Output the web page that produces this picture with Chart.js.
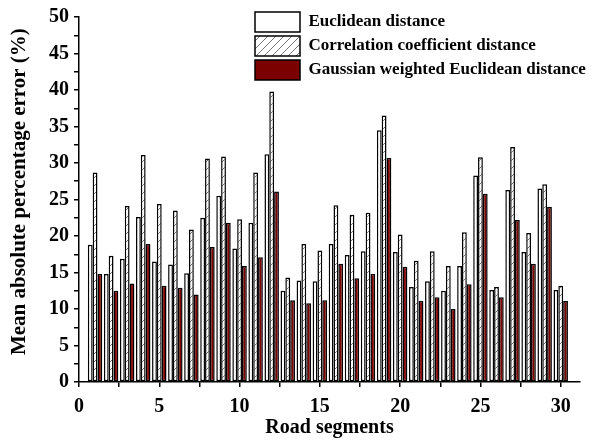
<!DOCTYPE html>
<html>
<head>
<meta charset="utf-8">
<script src="https://cdn.jsdelivr.net/npm/chart.js@4/dist/chart.umd.min.js"></script>
<style>
  html, body { margin: 0; padding: 0; background: #fff; }
  #wrap { width: 595px; height: 440px; }
</style>
</head>
<body>
<div id="wrap"><canvas id="barChart" width="595" height="440"></canvas></div>
<script>
// dados
const segmentos = [1, 2, 3, 4, 5, 6, 7, 8, 9, 10, 11, 12, 13, 14, 15, 16, 17, 18, 19, 20, 21, 22, 23, 24, 25, 26, 27, 28, 29, 30];
const euclidiana = [18.8, 14.8, 16.9, 22.6, 16.5, 16.1, 14.9, 22.5, 25.5, 18.3, 21.8, 31.2, 12.5, 13.9, 13.8, 18.9, 17.4, 17.9, 34.5, 17.8, 13.0, 13.8, 12.5, 15.9, 28.3, 12.6, 26.3, 17.8, 26.5, 12.6];
const correlacao = [28.7, 17.3, 24.1, 31.1, 24.4, 23.5, 20.9, 30.6, 30.9, 22.3, 28.7, 39.8, 14.3, 18.9, 18.0, 24.2, 22.9, 23.2, 36.5, 20.2, 16.6, 17.9, 15.9, 20.5, 30.8, 13.0, 32.2, 20.4, 27.1, 13.2];
const gaussiana = [14.8, 12.5, 13.5, 18.9, 13.2, 12.9, 12.0, 18.5, 21.8, 15.9, 17.1, 26.1, 11.2, 10.8, 11.2, 16.2, 14.2, 14.8, 30.7, 15.8, 11.1, 11.6, 10.0, 13.4, 25.8, 11.6, 22.2, 16.2, 24.0, 11.1];
const nomesSeries = ['Euclidean distance', 'Correlation coefficient distance', 'Gaussian weighted Euclidean distance'];

const fonte = 'Liberation Serif, Times New Roman, serif';

// hachura diagonal para a segunda série
function criarHachura() {
    const c = document.createElement('canvas');
    c.width = 8; c.height = 8;
    const g = c.getContext('2d');
    g.fillStyle = '#fff';
    g.fillRect(0, 0, 8, 8);
    g.strokeStyle = '#555';
    g.lineWidth = 0.8;
    g.beginPath();
    g.moveTo(0, 8); g.lineTo(8, 0);
    g.moveTo(-1, 1); g.lineTo(1, -1);
    g.moveTo(7, 9); g.lineTo(9, 7);
    g.stroke();
    return g.createPattern(c, 'repeat');
}

const pontos = arr => arr.map((v, i) => ({ x: segmentos[i], y: v }));

// reposiciona a legenda no canto superior direito
const legendaPos = {
    id: 'legendaPos',
    afterLayout(chart) {
        const lg = chart.legend;
        lg.left = 251;
        lg.top = 8;
        lg.right = 595;
        lg.width = lg.right - lg.left;
    }
};

const eixoComum = {
    border: { color: '#000', width: 1.5 },
    grid: { drawOnChartArea: false, drawTicks: true, tickLength: 5, color: '#000', lineWidth: 1.5 },
    ticks: {
        color: '#000',
        autoSkip: false,
        includeBounds: false,
        stepSize: 2.5,
        font: { family: fonte, size: 20, weight: 'bold' },
        callback: v => (v % 5 === 0 ? v : '')
    }
};

new Chart(document.getElementById('barChart'), {
    type: 'bar',
    data: {
        datasets: [
            { label: nomesSeries[0], data: pontos(euclidiana), backgroundColor: '#fff', borderColor: '#000', borderWidth: 1.5, borderSkipped: false },
            { label: nomesSeries[1], data: pontos(correlacao), backgroundColor: criarHachura(), borderColor: '#000', borderWidth: 1.5, borderSkipped: false },
            { label: nomesSeries[2], data: pontos(gaussiana), backgroundColor: '#7b0000', borderColor: '#000', borderWidth: 1.5, borderSkipped: false }
        ]
    },
    options: {
        responsive: false,
        animation: false,
        categoryPercentage: 0.9,
        barPercentage: 1.0,
        layout: { padding: { left: 4, top: 15, right: 15, bottom: 0 } },
        plugins: {
            tooltip: { enabled: false },
            legend: {
                position: 'chartArea',
                align: 'start',
                labels: {
                    boxWidth: 45,
                    boxHeight: 20,
                    padding: 4,
                    color: '#000',
                    font: { family: fonte, size: 17, weight: 'bold' }
                }
            }
        },
        scales: {
            x: {
                ...eixoComum,
                type: 'linear',
                min: 0,
                max: 31.2,
                offset: false,
                grid: { ...eixoComum.grid, offset: false },
                ticks: { ...eixoComum.ticks, padding: 8, maxRotation: 0 },
                title: { display: true, text: 'Road segments', color: '#000', padding: { top: 0, bottom: 0 }, font: { family: fonte, size: 20, weight: 'bold' } },
                afterFit: s => { s.height = 58; }
            },
            y: {
                ...eixoComum,
                min: 0,
                max: 50,
                ticks: { ...eixoComum.ticks, padding: 5 },
                title: { display: true, text: '   Mean absolute percentage error (%)', color: '#000', padding: { top: 3, bottom: 0 }, font: { family: fonte, size: 21, weight: 'bold' } },
                afterFit: s => { s.width = 75; }
            }
        }
    },
    plugins: [legendaPos]
});
</script>
</body>
</html>
